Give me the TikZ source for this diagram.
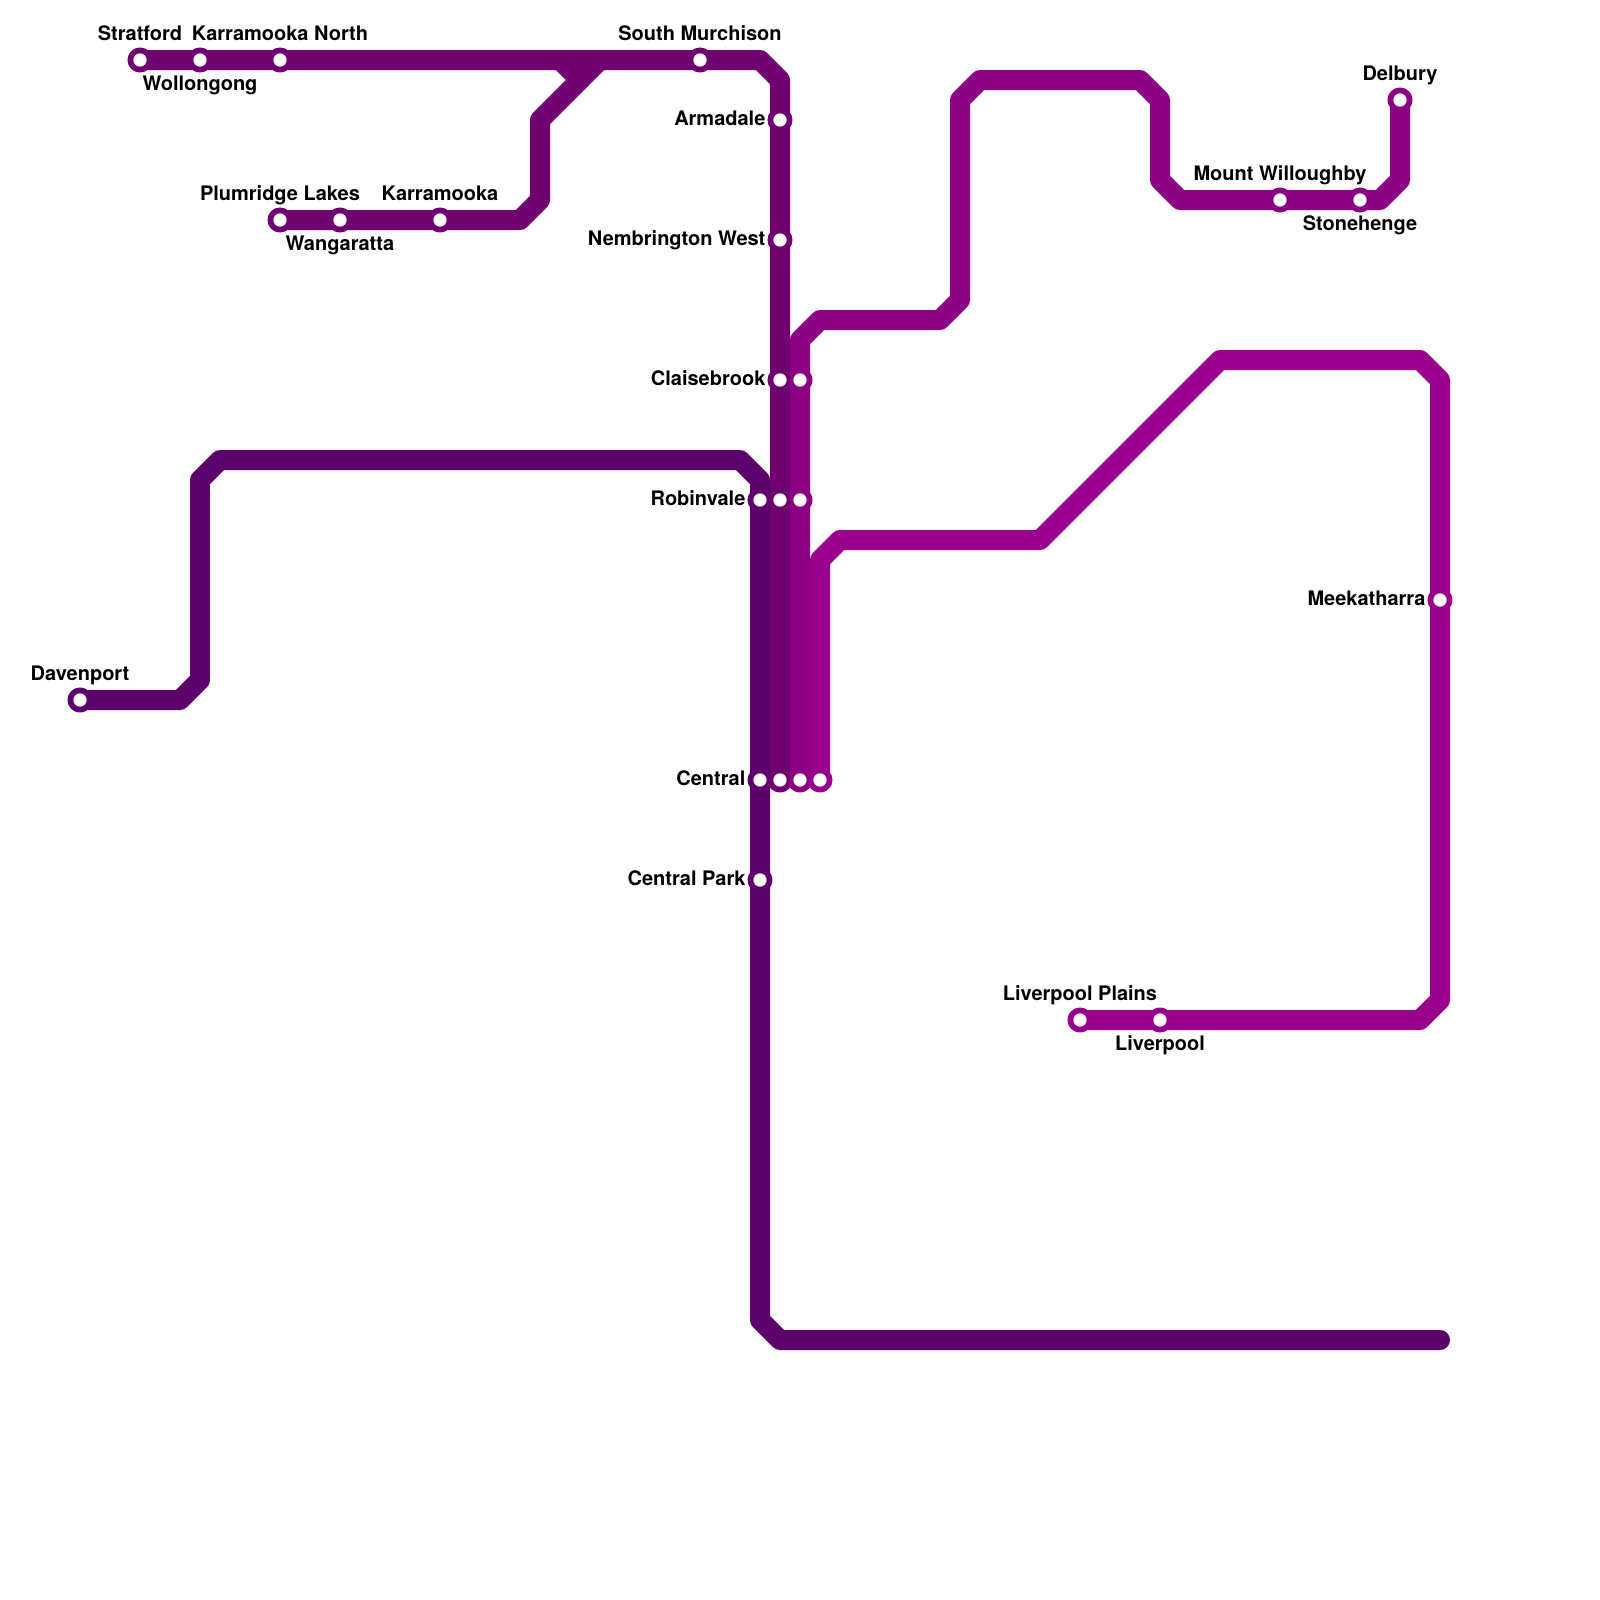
\documentclass[tikz,border=0pt]{standalone}
\usepackage{fontspec}
\setmainfont{TeX Gyre Heros}
\usepackage{tkz-euclide}
\usetikzlibrary{positioning}
\definecolor{LineAClr}{rgb}{0.44,0,0.44}
\definecolor{LineCClr}{rgb}{0.36,0,0.42}
\definecolor{LineDClr}{rgb}{0.545,0,0.51}
\definecolor{LineEClr}{rgb}{0.6,0,0.55}

\begin{document}
\begin{tikzpicture}[x=.25cm,y=-.25cm,
  stnlabel/.style={font=\fontsize{7.11}{8}\selectfont\bfseries,inner sep=0pt,text height=5.12pt,text depth=0pt},
  labelabove/.style={stnlabel,above=6.8pt of #1},
  labelbelow/.style={stnlabel,below=5.55pt of #1},
  labelleft/.style={stnlabel,left=5pt of #1,yshift=.5pt}]
\useasboundingbox (0,0) rectangle (80,80);

\tkzDefPoints{7/3/Stra,10/3/Woll,14/3/KarrN,35/3/SMur,38/3/Ab,39/4/Ac,39/6/Arma,39/12/Nemb,39/19/ClaA,39/25/RobA,39/39/CenA}
\tkzDefPoints{14/11/Plum,17/11/Wang,22/11/Karr,26/11/Bb,27/10/Bc,27/6/Bd,30/3/Be,28/3/Bf,29/4/Bg}
\tkzDefPoints{4/35/Dave,9/35/Cb,10/34/Cc,10/24/Cd,11/23/Ce,37/23/Cf,38/24/Cg,38/25/RobC,38/39/CenC,38/44/CPark,38/66/Ch,39/67/Ci,72/67/Cj}
\tkzDefPoints{40/39/CenD,40/25/RobD,40/19/ClaD,40/17/Db,41/16/Dc,47/16/Dd,48/15/De,48/5/Df,49/4/Dg,57/4/Dh,58/5/Di,58/9/Dj,59/10/Dk,64/10/MtW,68/10/Ston,69/10/Dl,70/9/Dm,70/5/Delb}
\tkzDefPoints{41/39/CenE,41/28/Eb,42/27/Ec,52/27/Ed,61/18/Ee,71/18/Ef,72/19/Eg,72/30/Meek,72/50/Eh,71/51/Ei,58/51/Liv,54/51/LivP}

% rings go under the lines
\tkzDrawPoints[size=8.5,color=LineAClr,fill=LineAClr](Stra,Woll,KarrN,SMur,Arma,Nemb,ClaA,RobA,CenA,Plum,Wang,Karr)
\tkzDrawPoints[size=8.5,color=LineDClr,fill=LineDClr](CenD,RobD,ClaD,MtW,Ston,Delb)
\tkzDrawPoints[size=8.5,color=LineEClr,fill=LineEClr](CenE,Meek,Liv,LivP)
\tkzDrawPoints[size=8.5,color=LineCClr,fill=LineCClr](Dave,RobC,CenC,CPark)

\tkzDrawPolySeg[line width=7.11pt,color=LineEClr,line cap=round,line join=round](CenE,Eb,Ec,Ed,Ee,Ef,Eg,Eh,Ei,LivP)
\tkzDrawPolySeg[line width=7.11pt,color=LineDClr,line cap=round,line join=round](CenD,Db,Dc,Dd,De,Df,Dg,Dh,Di,Dj,Dk,Dl,Dm,Delb)
\tkzDrawPolySeg[line width=7.11pt,color=LineAClr,line cap=round,line join=round](Stra,Ab,Ac,CenA)
\tkzDrawPolySeg[line width=7.11pt,color=LineAClr,line cap=round,line join=round](Plum,Bb,Bc,Bd,Be)
\tkzDrawSegments[line width=7.11pt,color=LineAClr,line cap=round](Bf,Bg)
\tkzDrawPolySeg[line width=7.11pt,color=LineCClr,line cap=round,line join=round](Dave,Cb,Cc,Cd,Ce,Cf,Cg,Ch,Ci,Cj)

\tkzDrawPoints[size=4.3,color=white,fill=white](Stra,Woll,KarrN,SMur,Arma,Nemb,ClaA,RobA,CenA,Plum,Wang,Karr)
\tkzDrawPoints[size=4.3,color=white,fill=white](CenD,RobD,ClaD,MtW,Ston,Delb,CenE,Meek,Liv,LivP,Dave,RobC,CenC,CPark)

\node[labelabove=Stra] (lStra) {Stratford};
\node[labelbelow=Woll] (lWoll) {Wollongong};
\node[labelabove=KarrN] (lKarrN) {Karramooka North};
\node[labelabove=SMur] (lSMur) {South Murchison};
\node[labelleft=Arma] (lArma) {Armadale};
\node[labelleft=Nemb] (lNemb) {Nembrington West};
\node[labelleft=ClaA] (lClaA) {Claisebrook};
\node[labelleft=RobC] (lRobC) {Robinvale};
\node[labelleft=CenC] (lCenC) {Central};
\node[labelleft=CPark] (lCPark) {Central Park};
\node[labelabove=Plum] (lPlum) {Plumridge Lakes};
\node[labelbelow=Wang] (lWang) {Wangaratta};
\node[labelabove=Karr] (lKarr) {Karramooka};
\node[labelabove=Dave] (lDave) {Davenport};
\node[labelabove=MtW] (lMtW) {Mount Willoughby};
\node[labelbelow=Ston] (lSton) {Stonehenge};
\node[labelabove=Delb] (lDelb) {Delbury};
\node[labelleft=Meek] (lMeek) {Meekatharra};
\node[labelabove=LivP] (lLivP) {Liverpool Plains};
\node[labelbelow=Liv] (lLiv) {Liverpool};

\end{tikzpicture}
\end{document}
